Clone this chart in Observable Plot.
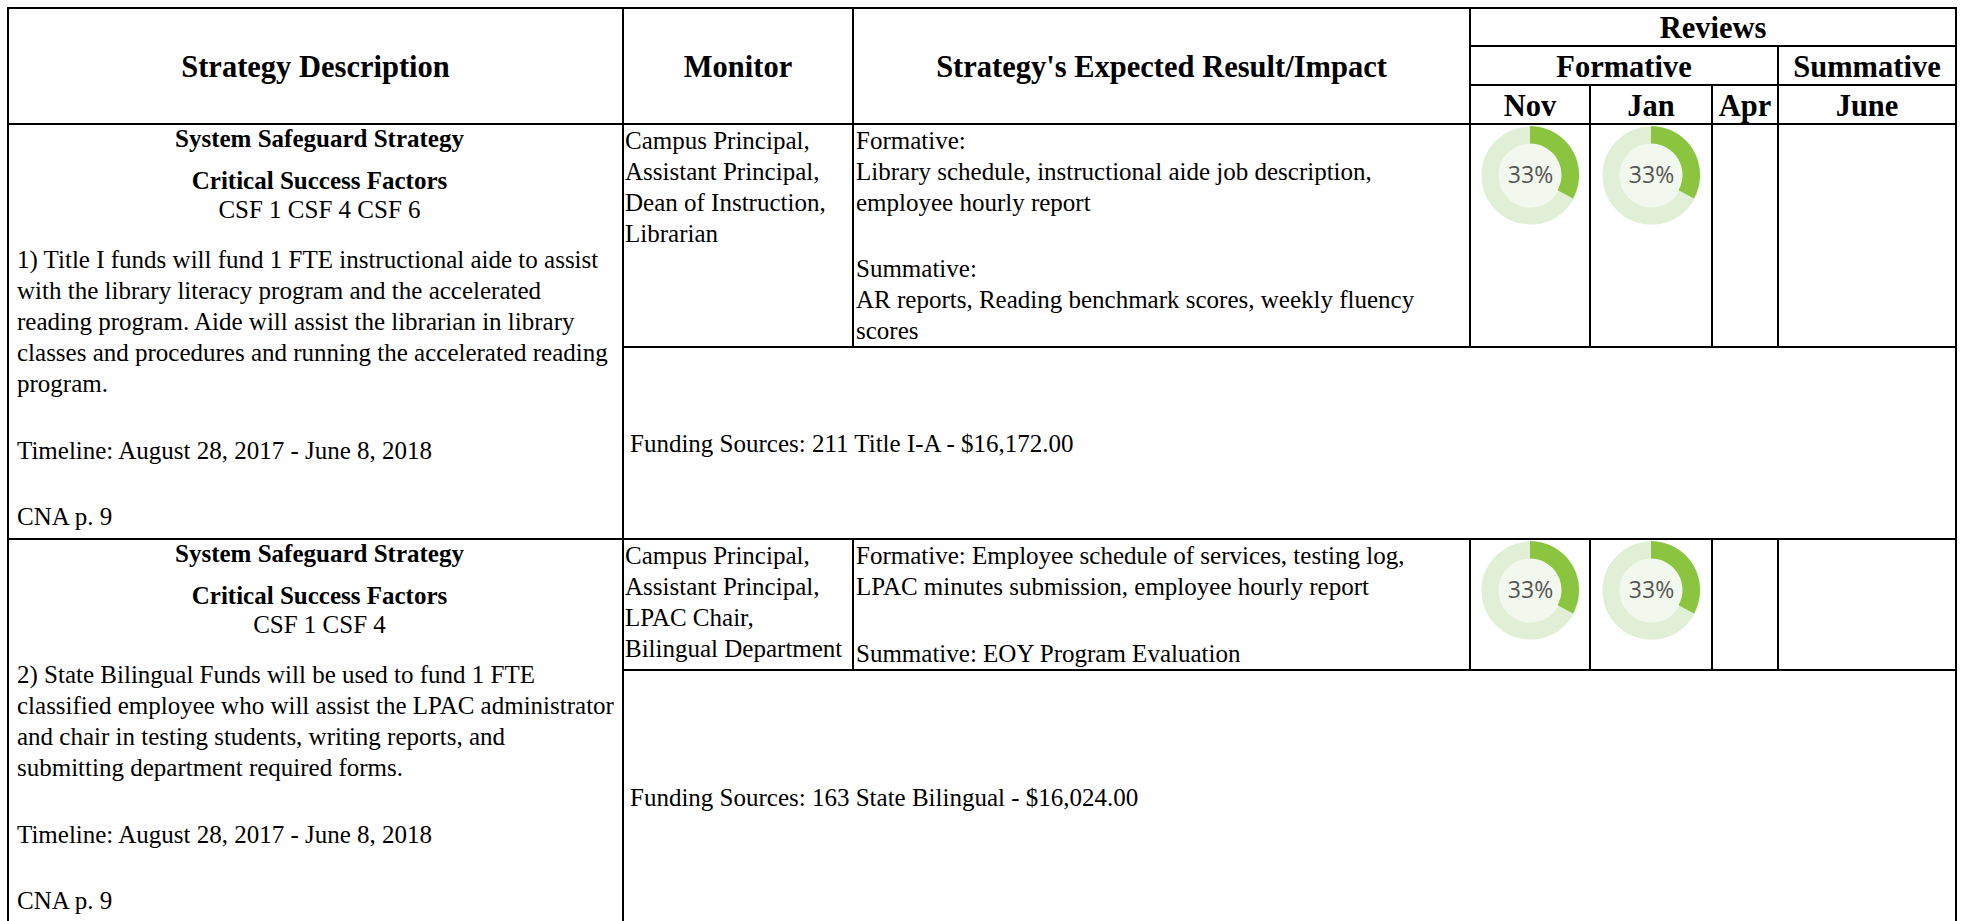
<!DOCTYPE html>
<html>
<head>
<meta charset="utf-8">
<script src="https://cdn.jsdelivr.net/npm/d3@7"></script>
<script src="https://cdn.jsdelivr.net/npm/@observablehq/plot@0.6"></script>
<style>
  html, body { margin: 0; padding: 0; background: #fff; overflow: hidden; width: 1965px; height: 921px; }
  body { font-family: "Liberation Serif", "Times New Roman", serif; color: #000; font-size: 25px; line-height: 31px; }
  #grid {
    position: absolute; left: 7px; top: 7px;
    display: grid; background: #000; padding: 2px; gap: 2px;
    grid-template-columns: 613px 228px 615px 118px 120px 64px 176px;
    grid-template-rows: 36px 37px 37px 221px 190px 129px 252px;
  }
  .c { background: #fff; overflow: visible; white-space: nowrap; position: relative; }
  .h { font-weight: bold; font-size: 30.5px; line-height: 34px; display: flex; align-items: center; justify-content: center; padding-top: 2px; box-sizing: border-box; }
  .strat { padding-left: 8px; }
  .strat .ctr { text-align: center; font-weight: bold; line-height: 28.75px; }
  .strat .csf { text-align: center; line-height: 28.75px; }
  .mon { padding-left: 1px; }
  .exp { padding-left: 2px; display: flex; flex-direction: column; justify-content: space-between; }
  .fund { padding-left: 6px; display: flex; align-items: center; }
  .don { display: flex; justify-content: center; align-items: flex-start; }
</style>
</head>
<body>
<div id="grid"></div>
<script>
// ---- data ----
const headers = ["Strategy Description", "Monitor", "Strategy's Expected Result/Impact"];
const reviewGroups = ["Reviews", "Formative", "Summative"];
const months = ["Nov", "Jan", "Apr", "June"];

const strategyTitle = ["System Safeguard Strategy", "System Safeguard Strategy"];
const csfLabel = "Critical Success Factors";
const csfs = ["CSF 1 CSF 4 CSF 6", "CSF 1 CSF 4"];
const descriptions = [
  ["1) Title I funds will fund 1 FTE instructional aide to assist",
   "with the library literacy program and the accelerated",
   "reading program. Aide will assist the librarian in library",
   "classes and procedures and running the accelerated reading",
   "program."],
  ["2) State Bilingual Funds will be used to fund 1 FTE",
   "classified employee who will assist the LPAC administrator",
   "and chair in testing students, writing reports, and",
   "submitting department required forms."]
];
const timelines = ["Timeline: August 28, 2017 - June 8, 2018", "Timeline: August 28, 2017 - June 8, 2018"];
const cna = ["CNA p. 9", "CNA p. 9"];
const monitors = [
  ["Campus Principal,", "Assistant Principal,", "Dean of Instruction,", "Librarian"],
  ["Campus Principal,", "Assistant Principal,", "LPAC Chair,", "Bilingual Department"]
];
const formative = [
  ["Formative:", "Library schedule, instructional aide job description,", "employee hourly report"],
  ["Formative: Employee schedule of services, testing log,", "LPAC minutes submission, employee hourly report"]
];
const summative = [
  ["Summative:", "AR reports, Reading benchmark scores, weekly fluency", "scores"],
  ["Summative: EOY Program Evaluation"]
];
const funding = ["Funding Sources: 211 Title I-A - $16,172.00", "Funding Sources: 163 State Bilingual - $16,024.00"];
// review percentages per strategy, by month (null = no review yet)
const novPct = [33, 33];
const janPct = [33, 33];
const aprPct = [null, null];
const junePct = [null, null];

// ---- build ----
const grid = document.getElementById("grid");
function cell(cls, col, row, html) {
  const d = document.createElement("div");
  d.className = "c " + cls;
  d.style.gridColumn = col;
  d.style.gridRow = row;
  if (html != null) d.innerHTML = html;
  grid.appendChild(d);
  return d;
}
const lines = arr => arr.map(t => `<div>${t}</div>`).join("");

cell("h", "1", "1 / 4", headers[0]);
cell("h", "2", "1 / 4", headers[1]);
cell("h", "3", "1 / 4", headers[2]);
cell("h", "4 / 8", "1", reviewGroups[0]);
cell("h", "4 / 7", "2", reviewGroups[1]);
cell("h", "7", "2", reviewGroups[2]);
months.forEach((m, i) => cell("h", String(4 + i), "3", m));

function donut(pct) {
  const parts = [{k: "done", v: pct}, {k: "rest", v: 100 - pct}];
  return Plot.plot({
    width: 100, height: 100, margin: 0,
    x: {domain: [-1, 1], axis: null},
    y: {domain: [-1, 1], axis: null},
    style: {background: "transparent", overflow: "visible"},
    marks: [
      Plot.dot([{x: 0, y: 0}], {x: "x", y: "y", r: 40.5, stroke: "#e1efd6", strokeWidth: 17, fill: "#f2f8ed"}),
      (index, scales) => {
        const g = d3.create("svg:g").attr("transform", `translate(${scales.x(0)},${scales.y(0)})`);
        const arcs = d3.pie().sort(null).value(d => d.v)(parts).filter(a => a.data.k === "done");
        g.selectAll("path").data(arcs).join("path")
          .attr("d", d3.arc().innerRadius(31.5).outerRadius(49))
          .attr("fill", "#8bc53f");
        return g.node();
      },
      Plot.text([{x: 0, y: 0, t: pct + "%"}], {x: "x", y: "y", text: "t", fontSize: 23, fill: "#555", fontFamily: "Open Sans, sans-serif"})
    ]
  });
}

const rowStart = [4, 6];
[0, 1].forEach(i => {
  const r = rowStart[i];
  cell("strat", "1", `${r} / ${r + 2}`,
    `<div class="ctr">${strategyTitle[i]}</div>` +
    `<div class="ctr" style="margin-top:13px">${csfLabel}</div>` +
    `<div class="csf">${csfs[i]}</div>` +
    `<div style="margin-top:19.8px">${lines(descriptions[i])}</div>` +
    `<div style="margin-top:35.6px">${timelines[i]}</div>` +
    `<div style="margin-top:35.7px">${cna[i]}</div>`);
  cell("mon", "2", String(r), lines(monitors[i]));
  cell("exp", "3", String(r), `<div>${lines(formative[i])}</div><div>${lines(summative[i])}</div>`);
  [novPct, janPct, aprPct, junePct].forEach((arr, j) => {
    const c = cell("don", String(4 + j), String(r));
    if (arr[i] != null) c.appendChild(donut(arr[i]));
  });
  cell("fund", "2 / 8", String(r + 1), funding[i]);
});
</script>
</body>
</html>
